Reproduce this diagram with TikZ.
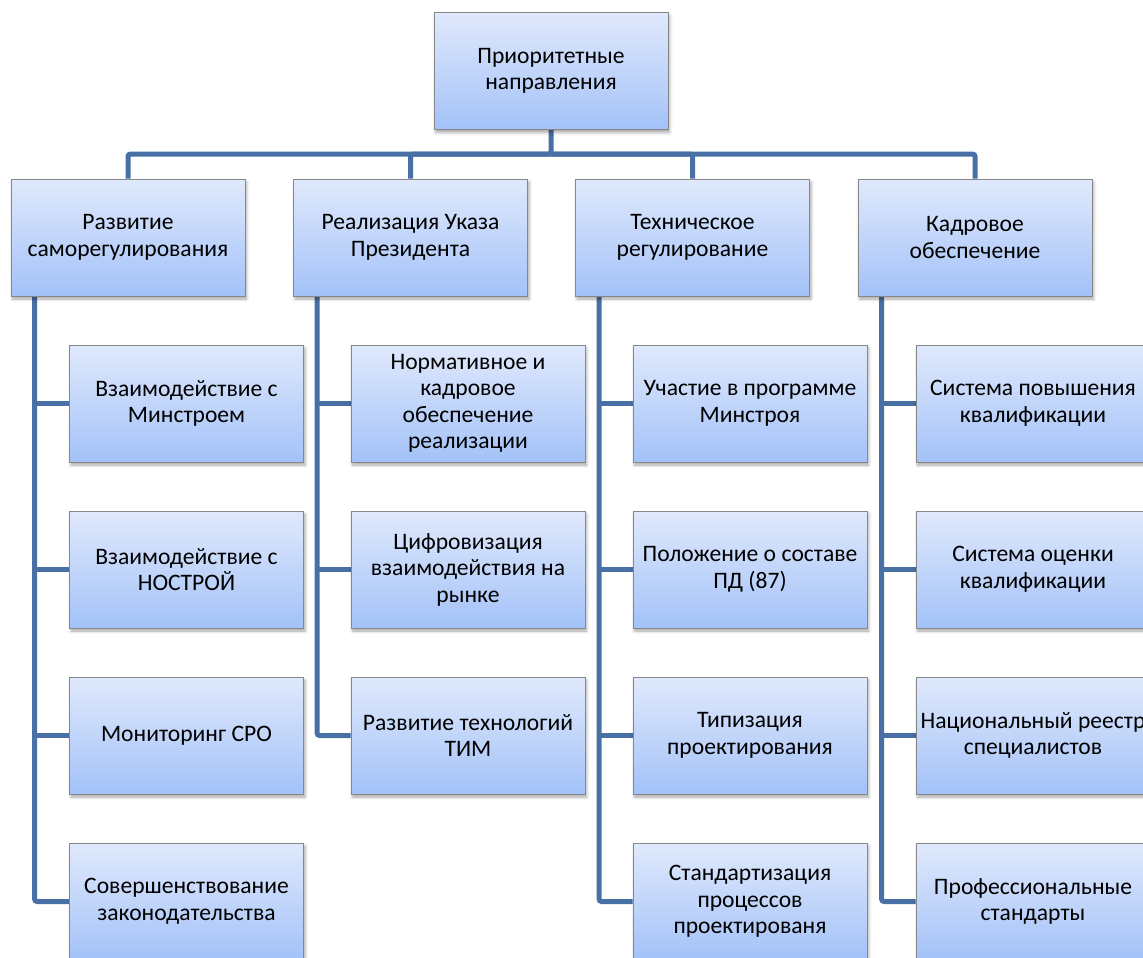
\documentclass[tikz,border=0pt]{standalone}
\usepackage{fontspec}
\setmainfont{Carlito}
\usetikzlibrary{shadows.blur,backgrounds}
\definecolor{connblue}{RGB}{72,112,165}
\definecolor{boxtop}{RGB}{224,233,252}
\definecolor{boxbot}{RGB}{163,194,248}
\definecolor{boxline}{RGB}{135,135,135}
\tikzset{
  box/.style={draw=boxline, line width=0.8pt, top color=boxtop, bottom color=boxbot,
    minimum width=234pt, minimum height=117pt, inner sep=2pt, align=center,
    font=\fontsize{23.6}{26.5}\selectfont, text=black,
    blur shadow={shadow xshift=1.5pt, shadow yshift=-3pt, shadow blur radius=3pt, shadow opacity=35}},
  conn/.style={draw=connblue, line width=5pt, rounded corners=2.5pt}
}
\begin{document}
\begin{tikzpicture}[x=1pt,y=-1pt]
\useasboundingbox (0,0) rectangle (1143,958);
\clip (0,0) rectangle (1143,958);
% top
\node[box] (top) at (551,71) {Приоритетные\\направления};
% level 2
\node[box] (L1) at (128,237.5) {Развитие\\саморегулирования};
\node[box] (L2) at (410.5,237.5) {Реализация Указа\\Президента};
\node[box] (L3) at (692.5,237.5) {Техническое\\регулирование};
\node[box] (L4) at (975,237.5) {Кадровое\\обеспечение};
% column 1
\node[box] (a1) at (186.5,403.5) {Взаимодействие с\\Минстроем};
\node[box] (a2) at (186.5,569.5) {Взаимодействие с\\НОСТРОЙ};
\node[box] (a3) at (186.5,735.5) {Мониторинг СРО};
\node[box] (a4) at (186.5,901.5) {Совершенствование\\законодательства};
% column 2
\node[box] (b1) at (468,403.5) {Нормативное и\\кадровое\\обеспечение\\реализации};
\node[box] (b2) at (468,569.5) {Цифровизация\\взаимодействия на\\рынке};
\node[box] (b3) at (468,735.5) {Развитие технологий\\ТИМ};
% column 3
\node[box] (c1) at (750,403.5) {Участие в программе\\Минстроя};
\node[box] (c2) at (750,569.5) {Положение о составе\\ПД (87)};
\node[box] (c3) at (750,735.5) {Типизация\\проектирования};
\node[box] (c4) at (750,901.5) {Стандартизация\\процессов\\проектированя};
% column 4
\node[box] (d1) at (1033,403.5) {Система повышения\\квалификации};
\node[box] (d2) at (1033,569.5) {Система оценки\\квалификации};
\node[box] (d3) at (1033,735.5) {Национальный реестр\\специалистов};
\node[box] (d4) at (1033,901.5) {Профессиональные\\стандарты};
\begin{pgfonlayer}{background}
\coordinate (bar) at (551,154);
\draw[conn] (top.south) -- (bar) -| (L1.north);
\draw[conn] (bar) -| (L2.north);
\draw[conn] (bar) -| (L3.north);
\draw[conn] (bar) -| (L4.north);
\coordinate (v1) at ([xshift=24pt]L1.south west);
\coordinate (v2) at ([xshift=24pt]L2.south west);
\coordinate (v3) at ([xshift=24pt]L3.south west);
\coordinate (v4) at ([xshift=24pt]L4.south west);
\draw[conn] (v1) |- (a4.west);
\draw[conn] (v1 |- a1.west) -- (a1.west);
\draw[conn] (v1 |- a2.west) -- (a2.west);
\draw[conn] (v1 |- a3.west) -- (a3.west);
\draw[conn] (v2) |- (b3.west);
\draw[conn] (v2 |- b1.west) -- (b1.west);
\draw[conn] (v2 |- b2.west) -- (b2.west);
\draw[conn] (v3) |- (c4.west);
\draw[conn] (v3 |- c1.west) -- (c1.west);
\draw[conn] (v3 |- c2.west) -- (c2.west);
\draw[conn] (v3 |- c3.west) -- (c3.west);
\draw[conn] (v4) |- (d4.west);
\draw[conn] (v4 |- d1.west) -- (d1.west);
\draw[conn] (v4 |- d2.west) -- (d2.west);
\draw[conn] (v4 |- d3.west) -- (d3.west);
\end{pgfonlayer}
\end{tikzpicture}
\end{document}
